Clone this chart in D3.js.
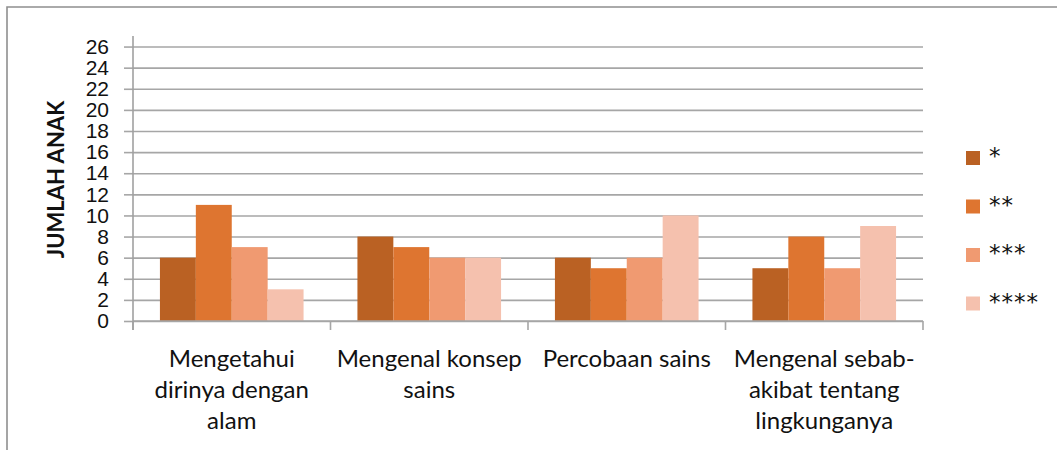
<!DOCTYPE html>
<html>
<head>
<meta charset="utf-8">
<script src="https://cdn.jsdelivr.net/npm/d3@7"></script>
<style>
  body { margin: 0; background: #fff; }
  svg { display: block; font-family: Lato, "Open Sans", sans-serif; }
</style>
</head>
<body>
<div id="chart"></div>
<script>
// Data
const categories = [
  "Mengetahui\ndirinya dengan\nalam",
  "Mengenal konsep\nsains",
  "Percobaan sains",
  "Mengenal sebab-\nakibat tentang\nlingkunganya"
];
const seriesNames = ["*", "**", "***", "****"];
const seriesValues = [
  [6, 8, 6, 5],    // *
  [11, 7, 5, 8],   // **
  [7, 6, 6, 5],    // ***
  [3, 6, 10, 9]    // ****
];
const yTicks = [0, 2, 4, 6, 8, 10, 12, 14, 16, 18, 20, 22, 24, 26];
const yMax = 27;
const yLabel = "JUMLAH ANAK";
const colors = ["#ba6123", "#de7530", "#f09a71", "#f5c1ae"];

const width = 1057;
const height = 450;
const marginTop = 36;
const marginLeft = 133;
const plotRight = 923;
const plotBottom = 321;

const svg = d3.select("#chart")
  .append("svg")
  .attr("width", width)
  .attr("height", height)
  .attr("viewBox", [0, 0, width, height]);

// outer frame (only top and left edges visible in the crop)
svg.append("path")
  .attr("d", `M7,${height + 5}V7H${width + 5}`)
  .attr("fill", "none")
  .attr("stroke", "#8f8f8f")
  .attr("stroke-width", 1.6);

const x0 = d3.scaleBand()
  .domain(d3.range(categories.length))
  .range([marginLeft, plotRight]);

const x1 = d3.scaleBand()
  .domain(d3.range(seriesNames.length))
  .range([0, x0.bandwidth()])
  .paddingOuter(0.75);

const y = d3.scaleLinear()
  .domain([0, yMax])
  .range([plotBottom, marginTop]);

// gridlines + y labels
svg.append("g")
  .attr("transform", `translate(${marginLeft},0)`)
  .call(d3.axisLeft(y).tickValues(yTicks).tickSize(9).tickPadding(15))
  .call(g => g.select(".domain").remove())
  .call(g => g.selectAll(".tick line")
      .attr("stroke", "#a6a6a6")
      .attr("stroke-width", 1.6))
  .call(g => g.selectAll(".tick line").clone()
      .attr("x1", 0)
      .attr("x2", plotRight - marginLeft))
  .call(g => g.selectAll(".tick text")
      .attr("font-size", 21)
      .attr("fill", "#111"));

// bars
svg.append("g")
  .selectAll("g")
  .data(seriesValues)
  .join("g")
  .attr("fill", (d, i) => colors[i])
  .selectAll("rect")
  .data((d, i) => d.map((v, c) => ({ s: i, c, v })))
  .join("rect")
  .attr("x", d => x0(d.c) + x1(d.s))
  .attr("width", x1.bandwidth())
  .attr("y", d => y(d.v))
  .attr("height", d => y(0) - y(d.v));

// x axis with category tick marks
const xAxis = svg.append("g")
  .attr("transform", `translate(0,${plotBottom})`);
xAxis.append("line")
  .attr("x1", marginLeft).attr("x2", plotRight)
  .attr("stroke", "#a6a6a6").attr("stroke-width", 1.6);
xAxis.selectAll(".ctick")
  .data(d3.range(categories.length + 1))
  .join("line")
  .attr("class", "ctick")
  .attr("x1", i => i < categories.length ? x0(i) : plotRight)
  .attr("x2", i => i < categories.length ? x0(i) : plotRight)
  .attr("y1", 0).attr("y2", 9)
  .attr("stroke", "#a6a6a6").attr("stroke-width", 1.6);

// y axis line (drawn on top)
svg.append("line")
  .attr("x1", marginLeft).attr("x2", marginLeft)
  .attr("y1", marginTop).attr("y2", plotBottom + 9)
  .attr("stroke", "#a0a0a0").attr("stroke-width", 1.6);

// category labels
svg.append("g")
  .selectAll("text")
  .data(categories)
  .join("text")
  .attr("text-anchor", "middle")
  .attr("font-size", 24)
  .attr("fill", "#111")
  .attr("x", (d, i) => x0(i) + x0.bandwidth() / 2)
  .attr("y", 367)
  .selectAll("tspan")
  .data(d => d.split("\n"))
  .join("tspan")
  .attr("x", function () { return d3.select(this.parentNode).attr("x"); })
  .attr("dy", (d, i) => i === 0 ? 0 : 31)
  .text(d => d);

// y axis title
svg.append("text")
  .attr("transform", `translate(64,${(marginTop + plotBottom) / 2 + 1}) rotate(-90)`)
  .attr("text-anchor", "middle")
  .attr("font-size", 22)
  .attr("font-weight", "bold")
  .attr("fill", "#111")
  .text(yLabel);

// legend
const legend = svg.append("g")
  .selectAll("g")
  .data(seriesNames)
  .join("g")
  .attr("transform", (d, i) => `translate(966,${151 + i * 48.5})`);
legend.append("rect")
  .attr("width", 14).attr("height", 14)
  .attr("fill", (d, i) => colors[i]);
legend.append("text")
  .attr("x", 23)
  .attr("y", 13)
  .attr("font-family", "'DejaVu Sans', sans-serif")
  .attr("font-size", 23)
  .attr("letter-spacing", 1)
  .attr("fill", "#111")
  .text(d => d);
</script>
</body>
</html>
